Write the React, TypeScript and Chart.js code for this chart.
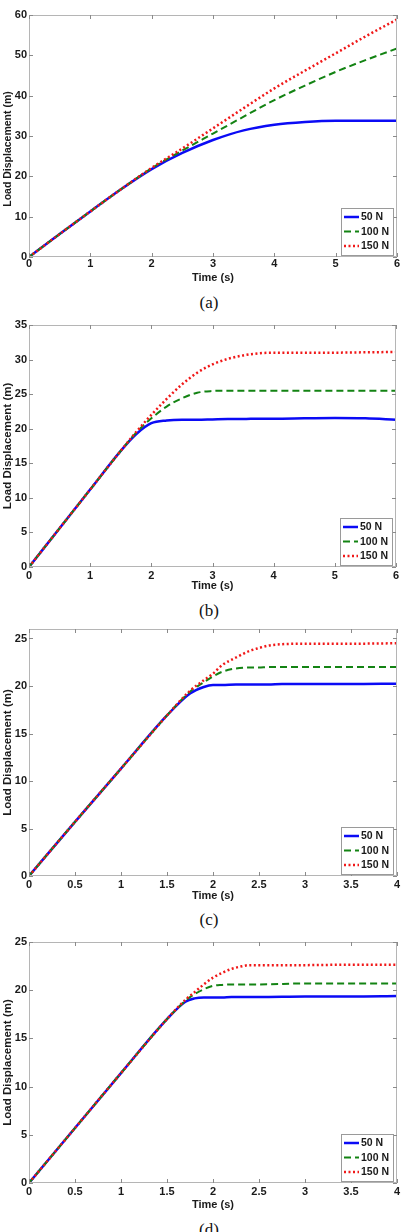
import React, { useEffect, useRef } from "react";
import { Chart, registerables } from "chart.js";

Chart.register(...registerables);

const SANS = '"Liberation Sans Narrow", "Arial Narrow", "Liberation Sans", Arial, sans-serif';
const SERIF = '"Liberation Serif", "Times New Roman", serif';

// Series shared by all four panels
const SERIES_LABELS = ["50 N", "100 N", "150 N"];
const SERIES_COLORS = ["#0b0bf5", "#138313", "#f01818"];
const SERIES_DASH = [[], [7, 4], [2, 2.5]];
const SERIES_WIDTH = [2.5, 2, 2.5];

// Panel (a)
const timeA = [0, 0.5, 1, 1.5, 2, 2.5, 3, 3.5, 4, 4.5, 5, 5.5, 6];
const loadA50 = [0, 5.7, 11.3, 16.8, 21.8, 25.8, 29.0, 31.4, 32.8, 33.5, 33.8, 33.8, 33.8];
const loadA100 = [0, 5.7, 11.3, 16.8, 22.0, 26.4, 30.6, 34.8, 38.9, 42.5, 45.9, 48.9, 51.7];
const loadA150 = [0, 5.7, 11.3, 16.8, 22.1, 26.9, 31.9, 36.9, 41.8, 46.2, 50.5, 54.8, 58.9];
const xTicksA = [0, 1, 2, 3, 4, 5, 6];
const yTicksA = [0, 10, 20, 30, 40, 50, 60];

// Panel (b)
const timeB = [0, 0.5, 1, 1.5, 1.75, 2, 2.25, 2.5, 2.75, 3, 3.25, 3.5, 3.75, 4, 4.5, 5, 5.5, 6];
const loadB50 = [0, 5.6, 11.2, 16.8, 19.2, 20.8, 21.2, 21.3, 21.3, 21.35, 21.4, 21.4, 21.45, 21.45, 21.5, 21.55, 21.5, 21.3];
const loadB100 = [0, 5.6, 11.2, 16.8, 19.4, 21.5, 23.2, 24.4, 25.2, 25.45, 25.5, 25.5, 25.5, 25.5, 25.5, 25.5, 25.5, 25.5];
const loadB150 = [0, 5.6, 11.2, 16.8, 19.5, 22.0, 24.3, 26.4, 28.1, 29.3, 30.1, 30.6, 30.9, 31.0, 31.0, 31.0, 31.05, 31.1];
const xTicksB = [0, 1, 2, 3, 4, 5, 6];
const yTicksB = [0, 5, 10, 15, 20, 25, 30, 35];

// Panel (c)
const timeC = [0, 0.5, 1, 1.5, 1.75, 1.9, 2, 2.1, 2.25, 2.4, 2.5, 2.6, 2.75, 3, 3.5, 4];
const loadC50 = [0, 5.7, 11.3, 16.9, 19.2, 19.9, 20.1, 20.1, 20.15, 20.15, 20.15, 20.15, 20.2, 20.2, 20.2, 20.25];
const loadC100 = [0, 5.7, 11.3, 16.9, 19.4, 20.4, 21.0, 21.5, 21.85, 21.95, 21.95, 22.0, 22.0, 22.0, 22.0, 22.0];
const loadC150 = [0, 5.7, 11.3, 16.9, 19.5, 20.6, 21.3, 22.2, 23.0, 23.7, 24.0, 24.25, 24.4, 24.45, 24.45, 24.5];
const xTicksC = [0, 0.5, 1, 1.5, 2, 2.5, 3, 3.5, 4];
const yTicksC = [0, 5, 10, 15, 20, 25];

// Panel (d)
const timeD = [0, 0.5, 1, 1.5, 1.7, 1.8, 1.9, 2, 2.1, 2.2, 2.3, 2.4, 2.5, 3, 3.5, 4];
const loadD50 = [0, 5.7, 11.4, 17.0, 18.8, 19.15, 19.25, 19.25, 19.25, 19.3, 19.3, 19.3, 19.3, 19.35, 19.35, 19.4];
const loadD100 = [0, 5.7, 11.4, 17.0, 18.9, 19.6, 20.1, 20.45, 20.55, 20.6, 20.6, 20.6, 20.6, 20.7, 20.7, 20.7];
const loadD150 = [0, 5.7, 11.4, 17.0, 19.0, 19.8, 20.6, 21.3, 21.8, 22.2, 22.45, 22.6, 22.6, 22.6, 22.65, 22.65];
const xTicksD = [0, 0.5, 1, 1.5, 2, 2.5, 3, 3.5, 4];
const yTicksD = [0, 5, 10, 15, 20, 25];

type PanelCfg = {
  caption: string;
  time: number[];
  series: number[][];
  xTicks: number[];
  yTicks: number[];
  yMax: number;
  area: { left: number; right: number; top: number; bottom: number };
  labelPad: number;
  xTitleCy: number;
  captionCy: number;
  yTitleSize: number;
  yTitleShift: number;
};

const PANELS: PanelCfg[] = [
  {
    caption: "(a)", time: timeA, series: [loadA50, loadA100, loadA150],
    xTicks: xTicksA, yTicks: yTicksA, yMax: 60,
    area: { left: 29, right: 397, top: 15, bottom: 257 },
    labelPad: 0, xTitleCy: 278, captionCy: 303, yTitleSize: 10.5, yTitleShift: 13,
  },
  {
    caption: "(b)", time: timeB, series: [loadB50, loadB100, loadB150],
    xTicks: xTicksB, yTicks: yTicksB, yMax: 35,
    area: { left: 29, right: 396, top: 325, bottom: 567 },
    labelPad: 2.5, xTitleCy: 586, captionCy: 611, yTitleSize: 11.5, yTitleShift: 0,
  },
  {
    caption: "(c)", time: timeC, series: [loadC50, loadC100, loadC150],
    xTicks: xTicksC, yTicks: yTicksC, yMax: 26,
    area: { left: 29, right: 397, top: 629, bottom: 876 },
    labelPad: 2.5, xTitleCy: 896, captionCy: 920, yTitleSize: 11.5, yTitleShift: 0,
  },
  {
    caption: "(d)", time: timeD, series: [loadD50, loadD100, loadD150],
    xTicks: xTicksD, yTicks: yTicksD, yMax: 25,
    area: { left: 29, right: 397, top: 942, bottom: 1183 },
    labelPad: 2.5, xTitleCy: 1205, captionCy: 1230, yTitleSize: 11.5, yTitleShift: 0,
  },
];

// Axes box with inward tick marks on all four sides
const boxTicks = {
  id: "boxTicks",
  afterDatasetsDraw(chart: any) {
    const { ctx, chartArea } = chart;
    const { left, right, top, bottom } = chartArea;
    const x = chart.scales.x;
    const y = chart.scales.y;
    ctx.save();
    ctx.strokeStyle = "#b5b5b5";
    ctx.lineWidth = 1;
    ctx.strokeRect(left + 0.5, top + 0.5, right - left - 1, bottom - top - 1);
    ctx.strokeStyle = "#8a8a8a";
    ctx.beginPath();
    const len = 4;
    x.ticks.forEach((t: any) => {
      const px = Math.round(x.getPixelForValue(t.value)) + 0.5;
      ctx.moveTo(px, bottom);
      ctx.lineTo(px, bottom - len);
      ctx.moveTo(px, top);
      ctx.lineTo(px, top + len);
    });
    y.ticks.forEach((t: any) => {
      const py = Math.round(y.getPixelForValue(t.value)) + 0.5;
      ctx.moveTo(left, py);
      ctx.lineTo(left + len, py);
      ctx.moveTo(right, py);
      ctx.lineTo(right - len, py);
    });
    ctx.stroke();
    ctx.restore();
  },
};

// Rotated y-axis title
const yTitle = {
  id: "yTitle",
  afterDraw(chart: any, _args: any, opts: any) {
    const { ctx, chartArea } = chart;
    ctx.save();
    ctx.translate(opts.x, (chartArea.top + chartArea.bottom) / 2 + opts.shift);
    ctx.rotate(-Math.PI / 2);
    ctx.font = `bold ${opts.size}px ${SANS}`;
    ctx.fillStyle = "#1a1a1a";
    ctx.textAlign = "center";
    ctx.textBaseline = "middle";
    ctx.fillText(opts.text, 0, 0);
    ctx.restore();
  },
};

// Legend box in the lower-right corner of the axes
const boxLegend = {
  id: "boxLegend",
  afterDraw(chart: any) {
    const { ctx, chartArea } = chart;
    ctx.save();
    ctx.font = `bold 10.5px ${SANS}`;
    const textW = Math.max(
      ...chart.data.datasets.map((ds: any) => ctx.measureText(ds.label).width)
    );
    const w = Math.max(45, Math.ceil(20 + textW + 3));
    const h = 47;
    const bx = Math.round(chartArea.right - 4 - w);
    const by = Math.round(chartArea.bottom - 2 - h);
    ctx.fillStyle = "#ffffff";
    ctx.fillRect(bx, by, w, h);
    ctx.strokeStyle = "#9a9a9a";
    ctx.lineWidth = 1;
    ctx.strokeRect(bx + 0.5, by + 0.5, w, h);
    ctx.textBaseline = "middle";
    ctx.textAlign = "left";
    chart.data.datasets.forEach((ds: any, i: number) => {
      const ry = by + 9 + i * 14.5;
      ctx.strokeStyle = ds.borderColor;
      ctx.lineWidth = ds.borderWidth;
      ctx.setLineDash(ds.borderDash || []);
      ctx.beginPath();
      ctx.moveTo(bx + 3, ry);
      ctx.lineTo(bx + 18, ry);
      ctx.stroke();
      ctx.setLineDash([]);
      ctx.fillStyle = "#1a1a1a";
      ctx.fillText(ds.label, bx + 20, ry + 0.5);
    });
    ctx.restore();
  },
};

function Panel({ cfg }: { cfg: PanelCfg }) {
  const ref = useRef<HTMLCanvasElement>(null);
  const canvasTop = cfg.area.top - 12;
  const canvasBottom = Math.ceil(cfg.xTitleCy + 7);
  const height = canvasBottom - canvasTop;

  useEffect(() => {
    if (!ref.current) return;
    const tickFont = { family: SANS, size: 11, weight: "bold" as const };
    const chart = new Chart(ref.current, {
      type: "line",
      data: {
        datasets: SERIES_LABELS.map((label, i) => ({
          label,
          data: cfg.time.map((t, k) => ({ x: t, y: cfg.series[i][k] })),
          borderColor: SERIES_COLORS[i],
          borderWidth: SERIES_WIDTH[i],
          borderDash: SERIES_DASH[i],
          pointRadius: 0,
          fill: false,
          cubicInterpolationMode: "monotone" as const,
          order: 2 - i,
        })),
      },
      options: {
        responsive: false,
        animation: false,
        events: [],
        layout: {
          padding: { left: 0, right: 404 - cfg.area.right, top: 12, bottom: 0 },
        },
        plugins: {
          legend: { display: false },
          tooltip: { enabled: false },
          // @ts-ignore
          yTitle: { text: "Load Displacement (m)", size: cfg.yTitleSize, shift: cfg.yTitleShift, x: 8 },
        },
        scales: {
          x: {
            type: "linear",
            min: 0,
            max: cfg.xTicks[cfg.xTicks.length - 1],
            afterBuildTicks: (s: any) => {
              s.ticks = cfg.xTicks.map((v) => ({ value: v }));
            },
            afterFit: (s: any) => {
              s.height = canvasBottom - cfg.area.bottom;
            },
            grid: { display: false, drawTicks: false },
            border: { display: false },
            ticks: {
              autoSkip: false,
              maxRotation: 0,
              padding: cfg.labelPad,
              color: "#1a1a1a",
              font: tickFont,
              callback: (v: any) => String(v),
            },
            title: {
              display: true,
              text: "Time (s)",
              color: "#1a1a1a",
              font: tickFont,
              padding: { top: 0, bottom: 0 },
            },
          },
          y: {
            type: "linear",
            min: 0,
            max: cfg.yMax,
            afterBuildTicks: (s: any) => {
              s.ticks = cfg.yTicks.map((v) => ({ value: v }));
            },
            afterFit: (s: any) => {
              s.width = cfg.area.left;
            },
            grid: { display: false, drawTicks: false },
            border: { display: false },
            ticks: {
              autoSkip: false,
              padding: 2,
              color: "#1a1a1a",
              font: tickFont,
              callback: (v: any) => String(v),
            },
          },
        },
      },
      plugins: [boxTicks, yTitle, boxLegend],
    });
    return () => chart.destroy();
  }, []);

  return (
    <>
      <div style={{ position: "absolute", left: 0, top: canvasTop, width: 404, height }}>
        <canvas ref={ref} width={404} height={height} style={{ display: "block" }} />
      </div>
      <div
        style={{
          position: "absolute",
          left: 159,
          width: 100,
          top: cfg.captionCy - 10,
          height: 20,
          lineHeight: "20px",
          textAlign: "center",
          fontFamily: SERIF,
          fontSize: 17,
          color: "#111",
        }}
      >
        {cfg.caption}
      </div>
    </>
  );
}

export default function App() {
  return (
    <div
      style={{
        position: "absolute",
        left: 0,
        top: 0,
        width: 404,
        height: 1232,
        overflow: "hidden",
        background: "#ffffff",
      }}
    >
      {PANELS.map((p) => (
        <Panel key={p.caption} cfg={p} />
      ))}
    </div>
  );
}
